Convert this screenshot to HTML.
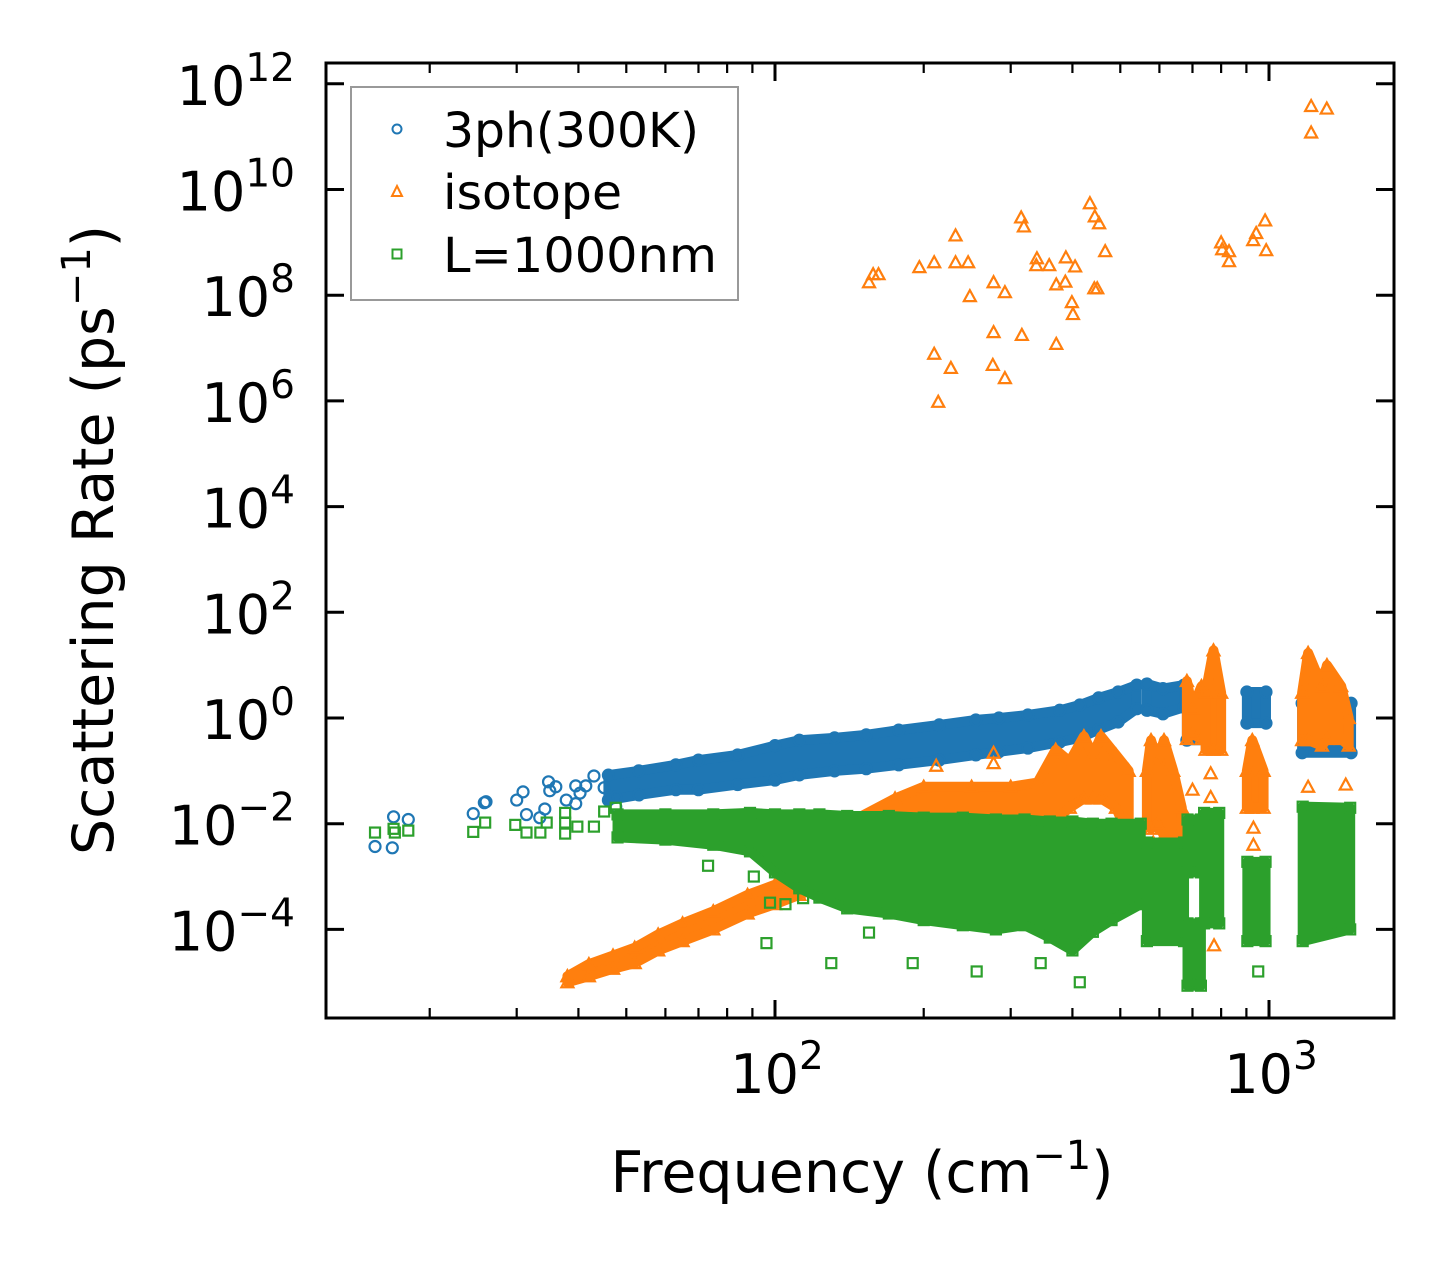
<!DOCTYPE html>
<html><head><meta charset="utf-8"><style>
html,body{margin:0;padding:0;background:#fff;}
svg{display:block;font-family:"DejaVu Sans","Liberation Sans",sans-serif;}
</style></head><body>
<svg id="chart" width="1455" height="1268" viewBox="0 0 1455 1268" xmlns="http://www.w3.org/2000/svg">
<rect width="1455" height="1268" fill="#fff"/>
<defs><clipPath id="plotclip"><rect x="326" y="63" width="1068" height="955"/></clipPath></defs>
<g id="plot" clip-path="url(#plotclip)"></g>
<g id="axes"></g>
<g id="legend">
  <rect x="351" y="87" width="387" height="213" fill="#fff" fill-opacity="0.8" stroke="#999" stroke-width="2"/>
  <g>
    <circle cx="397" cy="129" r="4.5" fill="none" stroke="#1f77b4" stroke-width="2"/>
    <text x="443" y="147" font-size="48" textLength="256" lengthAdjust="spacingAndGlyphs">3ph(300K)</text>
  </g>
  <g>
    <path d="M397,186 L402,196 L392,196 Z" fill="none" stroke="#ff7f0e" stroke-width="2"/>
    <text x="443" y="209" font-size="48" textLength="179" lengthAdjust="spacingAndGlyphs">isotope</text>
  </g>
  <g>
    <rect x="392.5" y="249.5" width="9" height="9" fill="none" stroke="#2ca02c" stroke-width="2"/>
    <text x="443" y="272" font-size="48" textLength="274" lengthAdjust="spacingAndGlyphs">L=1000nm</text>
  </g>
</g>
<text x="862" y="1192" font-size="57" text-anchor="middle">Frequency (cm<tspan dy="-23" font-size="40">−1</tspan><tspan dy="23">)</tspan></text>
<text transform="translate(113,540) rotate(-90)" font-size="57" text-anchor="middle">Scattering Rate (ps<tspan dy="-23" font-size="40">−1</tspan><tspan dy="23">)</tspan></text>
<script>
// ---- data ----
const blueSparseF=[15.5,16.8,16.9,18.1,24.5,25.8,26,30,30.9,31.4,33.4,34.2,34.8,35,36,37.8,39.5,39.5,40.3,41.4,43,45.1,47.6,47.6];
const blueSparseR=[0.0037,0.0035,0.0135,0.012,0.0155,0.025,0.026,0.028,0.04,0.0149,0.013,0.019,0.062,0.042,0.05,0.028,0.024,0.052,0.038,0.052,0.08,0.048,0.032,0.021];
const blueBandSeg=[0,0,0,0,0,0,0,0,0,0,0,0,0,0,0,0,0,0,0,1,1,1,2,2,3,3,4,4];
const blueBandF=[46,53,63,70,84,100,112,132,153,178,215,255,284,325,377,414,452,495,540,566,610,673,682,789,902,986,1167,1466];
const blueBandLo=[0.028,0.035,0.044,0.044,0.055,0.067,0.084,0.1,0.11,0.13,0.16,0.2,0.23,0.27,0.35,0.42,0.6,0.84,1.5,1.4,1.2,1.6,0.38,0.38,0.8,0.8,0.22,0.22];
const blueBandHi=[0.083,0.1,0.13,0.16,0.2,0.3,0.38,0.42,0.48,0.59,0.74,0.92,1.0,1.14,1.4,1.76,2.4,3.1,4.2,4.4,3.6,4.2,1.9,1.9,3.1,3.1,1.9,1.9];

const orangeSparseF=[155,158,162,196,210,232,232,246,248,277,292,210,227,277,276,292,315,319,339,316,338,359,371,387,388,405,434,444,453,466,449,399,401,371,443,982,942,929,987,800,804,830,830,214,1217,1309,1217,
 774,540,1200,1430,762,762,700,930,930,583,212,277,277];
const orangeSparseR=[1.76e8,2.5e8,2.5e8,3.4e8,4.2e8,1.35e9,4.2e8,4.2e8,9.6e7,1.76e8,1.14e8,7.8e6,4.2e6,2.0e7,4.8e6,2.7e6,2.96e9,2.0e9,5e8,1.77e7,3.7e8,3.7e8,1.6e8,1.8e8,5.2e8,3.5e8,5.5e9,3.1e9,2.3e9,6.8e8,1.35e8,7.4e7,4.4e7,1.2e7,1.35e8,2.6e9,1.5e9,1.1e9,7.1e8,1.0e9,7.4e8,6.8e8,4.4e8,9.6e5,3.8e11,3.4e11,1.2e11,
 5e-5,5.5e-4,0.05,0.055,0.09,0.032,0.044,0.004,0.0084,0.0044,0.125,0.14,0.22];
const orangeBandSeg=[0,0,0,0,0,0,0,0,0,0,0,0, 1,1,1,1,1,1,1,1,1,1,1,1,1, 2,2,2,2,2,2, 3,3,3, 4,4,4, 5,5,5, 6,6,6,6,6,6];
const orangeBandF=[38,42,47,52,58,65,75,88,100,112,125,140, 140,175,200,250,300,340,370,395,422,440,457,490,520, 566,577,595,613,640,666, 682,700,730, 744,772,800, 902,925,975, 1167,1200,1280,1310,1400,1450];
const orangeBandLo=[1e-5,1.3e-5,1.8e-5,2.3e-5,4e-5,6e-5,1e-4,2e-4,3e-4,4.5e-4,7e-4,1e-3, 0.003,0.006,0.009,0.009,0.009,0.01,0.012,0.02,0.03,0.03,0.03,0.02,0.006, 0.01,0.008,0.01,0.006,0.004,0.002, 0.4,0.5,0.4, 0.25,0.25,0.25, 0.02,0.02,0.02, 0.38,0.38,0.3,0.4,0.4,0.3];
const orangeBandHi=[1.3e-5,2.2e-5,3.2e-5,4.5e-5,8e-5,1.3e-4,2.2e-4,4.5e-4,7e-4,1.2e-3,2e-3,4e-3, 0.01,0.03,0.05,0.05,0.05,0.06,0.25,0.15,0.45,0.2,0.45,0.2,0.1, 0.1,0.38,0.15,0.38,0.1,0.02, 5,1.5,4, 3,19,3, 0.1,0.38,0.1, 3,17,4,10,4,1];

const greenSparseF=[15.5,17,16.9,18.1,24.5,25.9,29.8,31.4,33.5,34.5,37.6,37.6,37.6,39.8,43,45.1,47.6,73.2,90.6,96.1,130,97.7,105,114,190,256,155,345,414,951,700];
const greenSparseR=[0.0068,0.0068,0.008,0.0074,0.007,0.0105,0.0095,0.0068,0.0068,0.0105,0.016,0.0105,0.0065,0.0088,0.0088,0.017,0.02,0.0016,0.001,0.000055,0.000023,0.00032,0.0003,0.00039,2.3e-5,1.6e-5,8.7e-5,2.3e-5,1e-5,1.6e-5,1e-5];
const greenBandSeg=[0,0,0,0,0,0,0,0,0,0,0,0,0,0,0,0,0,0, 1,1, 2,2, 3,3, 4,4, 5,5, 6,6];
const greenBandF=[48,60,75,89,100,112,123,140,170,200,240,280,320,360,400,440,480,550, 566,673, 684,728, 684,728, 739,793, 904,984, 1170,1460];
const greenBandLo=[0.0055,0.005,0.004,0.003,0.0012,0.0006,0.0004,0.00025,0.0002,0.00015,0.00012,0.0001,0.00012,0.00007,0.00004,0.00009,0.00015,0.0003, 6e-5,6e-5, 0.0012,0.0012, 8.6e-6,8.6e-6, 1.3e-4,1.3e-4, 6e-5,6e-5, 6e-5,1e-4];
const greenBandHi=[0.015,0.015,0.015,0.016,0.015,0.015,0.015,0.014,0.014,0.013,0.013,0.012,0.012,0.011,0.011,0.01,0.01,0.01, 0.0044,0.0044, 0.012,0.012, 1.3e-4,1.3e-4, 0.016,0.016, 0.0019,0.0019, 0.021,0.02];

const yTickExp=[12,10,8,6,4,2,0,-2,-4];
const xTickExp=[2,3];
const xMinorVals=[20,30,40,50,60,70,80,90,200,300,400,500,600,700,800,900];

// ---- axes functions ----
const X0=326,X1=1394,Y0=63,Y1=1018;
function xs(f){return 775+494*(Math.log10(f)-2);}
function ys(r){return 718-52.85*Math.log10(r);}

const NS="http://www.w3.org/2000/svg";
const plot=document.getElementById('plot');
const axes=document.getElementById('axes');
function mk(tag,attrs,parent){const e=document.createElementNS(NS,tag);for(const k in attrs)e.setAttribute(k,attrs[k]);parent.appendChild(e);return e;}

function marker(kind,x,y,color,parent){
  let e;
  if(kind==='circle'){e=mk('circle',{cx:x,cy:y,r:5.5,fill:'none',stroke:color,'stroke-width':2.2},parent);}
  else if(kind==='tri'){e=mk('path',{d:`M${x},${y-6} L${x+6},${y+5} L${x-6},${y+5} Z`,fill:'none',stroke:color,'stroke-width':2.2},parent);}
  else {e=mk('rect',{x:x-5,y:y-5,width:10,height:10,fill:'none',stroke:color,'stroke-width':2.2},parent);}
  return e;
}

function drawSeries(name,kind,color,seg,F,Lo,Hi,SF,SR){
  const g=mk('g',{},plot);
  
  
  const segs=[...new Set(seg)];
  segs.forEach(s=>{
    const idx=seg.map((v,i)=>v===s?i:-1).filter(i=>i>=0);
    let pts=idx.map(i=>xs(F[i])+','+ys(Hi[i]));
    pts=pts.concat(idx.slice().reverse().map(i=>xs(F[i])+','+ys(Lo[i])));
    const p=mk('polygon',{points:pts.join(' '),fill:color,stroke:color,'stroke-width':10,'stroke-linejoin':'round'},g);
    
    
    idx.forEach(i=>{
      const a=marker(kind,xs(F[i]),ys(Hi[i]),color,g);
      
      
      const b=marker(kind,xs(F[i]),ys(Lo[i]),color,g);
      
      
    });
  });
  SF.forEach((f,i)=>{
    const m=marker(kind,xs(f),ys(SR[i]),color,g);
    
    
  });
}
drawSeries('3ph','circle','#1f77b4',blueBandSeg,blueBandF,blueBandLo,blueBandHi,blueSparseF,blueSparseR);
drawSeries('isotope','tri','#ff7f0e',orangeBandSeg,orangeBandF,orangeBandLo,orangeBandHi,orangeSparseF,orangeSparseR);
drawSeries('boundary','square','#2ca02c',greenBandSeg,greenBandF,greenBandLo,greenBandHi,greenSparseF,greenSparseR);

function powLabel(tx,exp){
  tx.appendChild(document.createTextNode('10'));
  const sp=document.createElementNS(NS,'tspan');
  sp.setAttribute('dy','-24');
  sp.setAttribute('font-size','39');
  sp.textContent=exp;
  tx.appendChild(sp);
}

// frame
const fr=mk('rect',{x:X0,y:Y0,width:X1-X0,height:Y1-Y0,fill:'none',stroke:'#000','stroke-width':3},axes);


// y ticks
yTickExp.forEach(e=>{
  const y=ys(Math.pow(10,e));
  const t1=mk('line',{x1:X0,x2:X0+18,y1:y,y2:y,stroke:'#000','stroke-width':3},axes);
  
  
  const t2=mk('line',{x1:X1-18,x2:X1,y1:y,y2:y,stroke:'#000','stroke-width':3},axes);
  
  
  const tx=mk('text',{x:295,y:y+21,'font-size':54,'text-anchor':'end'},axes);
  
  
  powLabel(tx,(e<0?'\u2212':'')+Math.abs(e));
});
// x ticks
xTickExp.forEach(e=>{
  const x=xs(Math.pow(10,e));
  const t1=mk('line',{x1:x,x2:x,y1:Y1,y2:Y1-18,stroke:'#000','stroke-width':3},axes);
  
  
  const t2=mk('line',{x1:x,x2:x,y1:Y0,y2:Y0+18,stroke:'#000','stroke-width':3},axes);
  
  
  const tx=mk('text',{x:x+2,y:1093,'font-size':54,'text-anchor':'middle'},axes);
  
  
  powLabel(tx,String(e));
});
xMinorVals.forEach(v=>{
  const x=xs(v);
  const t1=mk('line',{x1:x,x2:x,y1:Y1,y2:Y1-10,stroke:'#000','stroke-width':2.2},axes);
  
  
  const t2=mk('line',{x1:x,x2:x,y1:Y0,y2:Y0+10,stroke:'#000','stroke-width':2.2},axes);
  
  
});
</script>
</svg>
</body></html>
